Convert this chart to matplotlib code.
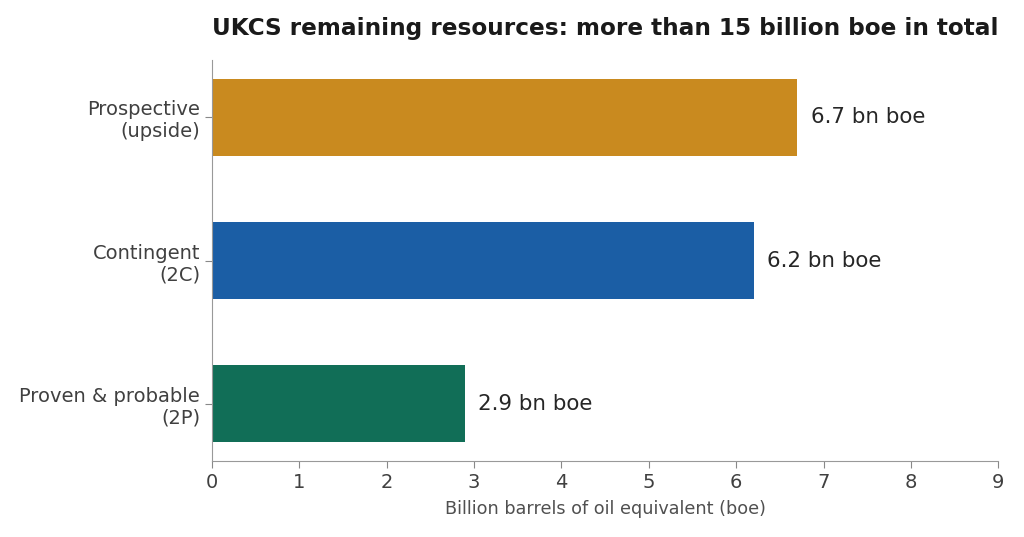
import matplotlib.pyplot as plt

categories = ['Proven & probable\n(2P)', 'Contingent\n(2C)', 'Prospective\n(upside)']
values = [2.9, 6.2, 6.7]
colors = ['#116E57', '#1B5EA5', '#C98A1F']
value_labels = ['2.9 bn boe', '6.2 bn boe', '6.7 bn boe']

fig = plt.figure(figsize=(10.24, 5.37), dpi=100)
ax = fig.add_axes([0.207, 0.1415, 0.768, 0.7465])

y = range(len(categories))
bars = ax.barh(y, values, height=0.54, color=colors)
for b, lab in zip(bars, value_labels):
    ax.text(b.get_width() + 0.15, b.get_y() + b.get_height() / 2, lab,
            va='center', ha='left', fontsize=15.4, color='#262626')

ax.set_yticks(list(y))
ax.set_yticklabels(categories, fontsize=14, color='#404040')
ax.set_xlim(0, 9)
ax.set_ylim(-0.4, 2.4)
ax.set_xticks(range(10))
ax.tick_params(axis='x', labelsize=14, colors='#888888', length=5)
ax.tick_params(axis='y', colors='#888888', length=5)
for lab in ax.get_xticklabels() + ax.get_yticklabels():
    lab.set_color('#404040')
ax.set_xlabel('Billion barrels of oil equivalent (boe)', fontsize=12.7, color='#505050', labelpad=6)
ax.set_title('UKCS remaining resources: more than 15 billion boe in total',
             fontsize=16.7, fontweight='bold', color='#1a1a1a', pad=18)

for s in ['top', 'right']:
    ax.spines[s].set_visible(False)
for s in ['left', 'bottom']:
    ax.spines[s].set_color('#999999')

fig.savefig('out.png', dpi=100)
